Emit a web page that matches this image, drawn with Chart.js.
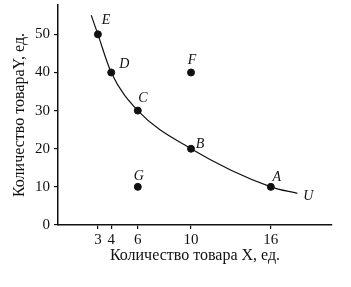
<!DOCTYPE html>
<html>
<head>
<meta charset="utf-8">
<script src="https://cdn.jsdelivr.net/npm/chart.js@4"></script>
<style>
  html, body { margin: 0; padding: 0; background: #fff; }
  #wrap { width: 351px; height: 287px; }
</style>
</head>
<body>
<div id="wrap"><canvas id="chart"></canvas></div>
<script>
// tick labels
var xTicks = [3, 4, 6, 10, 16];
var yTicks = [0, 10, 20, 30, 40, 50];

// named points
var pointNames = ['E', 'D', 'C', 'B', 'A', 'F', 'G'];
var pointX = [3, 4, 6, 10, 16, 10, 6];
var pointY = [50, 40, 30, 20, 10, 40, 10];

// indifference curve U
var curveName = 'U';
var curveX = [2.5, 3, 4, 6, 10, 16, 18];
var curveY = [55, 50, 40, 30, 20, 10, 8.3];

var serif = '"Liberation Serif", "DejaVu Serif", serif';

// where each letter sits relative to its dot
var labelOffsets = {
    E: [8, -14], D: [13, -8], C: [5, -12], B: [9, -4],
    A: [6, -10], F: [1, -12], G: [1, -11], U: [11, 3]
};

var pointLabels = {
    id: 'pointLabels',
    afterDatasetsDraw: function (chart) {
        var ctx = chart.ctx;
        ctx.save();
        ctx.fillStyle = '#111';
        ctx.font = 'italic 14px ' + serif;
        ctx.textAlign = 'center';
        ctx.textBaseline = 'middle';
        var pts = chart.getDatasetMeta(1).data;
        pts.forEach(function (p, i) {
            var o = labelOffsets[pointNames[i]];
            ctx.fillText(pointNames[i], p.x + o[0], p.y + o[1]);
        });
        var c = chart.getDatasetMeta(0).data;
        var last = c[c.length - 1];
        var o = labelOffsets[curveName];
        ctx.fillText(curveName, last.x + o[0], last.y + o[1]);
        ctx.restore();
    }
};

new Chart(document.getElementById('chart'), {
    type: 'scatter',
    data: {
        datasets: [{
            label: curveName,
            data: curveX.map(function (x, i) { return { x: x, y: curveY[i] }; }),
            showLine: true,
            borderColor: '#111',
            borderWidth: 1.2,
            pointRadius: 0,
            cubicInterpolationMode: 'monotone'
        }, {
            label: 'points',
            data: pointX.map(function (x, i) { return { x: x, y: pointY[i] }; }),
            backgroundColor: '#111',
            borderColor: '#111',
            pointRadius: 3.5
        }]
    },
    options: {
        responsive: true,
        maintainAspectRatio: false,
        animation: false,
        layout: { padding: { top: 0, right: 19, left: 0, bottom: 22 } },
        plugins: { legend: { display: false }, tooltip: { enabled: false } },
        scales: {
            x: {
                type: 'linear',
                min: 0,
                max: 20.6,
                afterBuildTicks: function (s) { s.ticks = xTicks.map(function (v) { return { value: v }; }); },
                afterFit: function (s) { s.height = 40; s.paddingLeft = 0; s.paddingRight = 0; },
                grid: { drawOnChartArea: false, tickLength: 4, color: '#111', lineWidth: 1.2 },
                border: { color: '#111', width: 1.5 },
                ticks: { color: '#111', font: { family: serif, size: 15 }, padding: 2, maxRotation: 0 },
                title: {
                    display: true,
                    text: 'Количество товара X, ед.',
                    color: '#111',
                    font: { family: serif, size: 16 },
                    padding: { top: 0, bottom: 0 }
                }
            },
            y: {
                type: 'linear',
                min: 0,
                max: 57.7,
                afterBuildTicks: function (s) { s.ticks = yTicks.map(function (v) { return { value: v }; }); },
                afterFit: function (s) { s.width = 58; s.paddingTop = 0; s.paddingBottom = 0; },
                grid: { drawOnChartArea: false, tickLength: 4, color: '#111', lineWidth: 1.2 },
                border: { color: '#111', width: 1.5 },
                ticks: { color: '#111', font: { family: serif, size: 15 }, padding: 4 },
                title: {
                    display: true,
                    text: 'Количество товараY, ед.',
                    color: '#111',
                    font: { family: serif, size: 16 },
                    padding: { top: 10, bottom: 2 }
                }
            }
        }
    },
    plugins: [pointLabels]
});
</script>
</body>
</html>
